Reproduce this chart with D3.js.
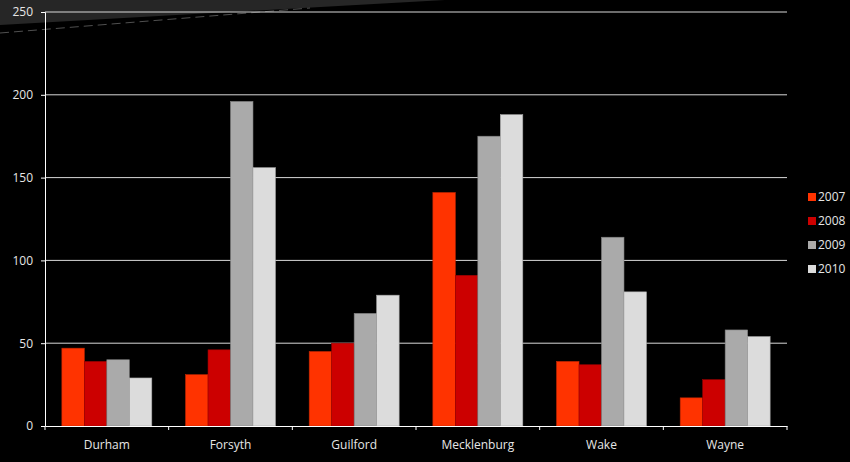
<!DOCTYPE html>
<html lang="en">
<head>
    <meta charset="UTF-8">
    <title>Counties by year</title>
    <script src="https://cdn.jsdelivr.net/npm/d3@7"></script>
    <style>
        body { margin: 0; background: #000; }
        svg text { font-family: "Open Sans", sans-serif; fill: #e6e6e6; }
    </style>
</head>
<body>
    <svg width="850" height="462"></svg>
    <script>
        // data
        const counties = ["Durham", "Forsyth", "Guilford", "Mecklenburg", "Wake", "Wayne"];
        const years = ["2007", "2008", "2009", "2010"];
        const v2007 = [47, 31, 45, 141, 39, 17];
        const v2008 = [39, 46, 50, 91, 37, 28];
        const v2009 = [40, 196, 68, 175, 114, 58];
        const v2010 = [29, 156, 79, 188, 81, 54];
        const yTicks = [0, 50, 100, 150, 200, 250];
        const colors = ["#ff3300", "#cc0000", "#aaaaaa", "#dcdcdc"];

        const series = [v2007, v2008, v2009, v2010];

        const svg = d3.select("svg");
        const plotLeft = 45, plotRight = 787, plotTop = 12, plotBottom = 426;

        // background sweep at the top
        svg.append("rect").attr("width", 850).attr("height", 462).attr("fill", "#000");
        svg.append("path")
            .attr("d", "M0,0 L445,0 L0,25 Z")
            .attr("fill", "#262626");
        svg.append("line")
            .attr("x1", 0).attr("y1", 33).attr("x2", 310).attr("y2", 8)
            .attr("stroke", "#505050").attr("stroke-width", 1)
            .attr("stroke-dasharray", "9,5");

        const y = d3.scaleLinear().domain([0, 250]).range([plotBottom, plotTop]);
        const x0 = d3.scaleBand().domain(counties).range([plotLeft, plotRight]).padding(0);
        const x1 = d3.scaleBand().domain(years).range([0, x0.bandwidth()])
            .paddingInner(0).paddingOuter(0.75);

        // gridlines
        svg.append("g").selectAll("line")
            .data(yTicks.filter(d => d > 0))
            .join("line")
            .attr("x1", plotLeft).attr("x2", plotRight)
            .attr("y1", d => y(d)).attr("y2", d => y(d))
            .attr("stroke", "#d8d8d8").attr("stroke-width", 1);

        // bars
        const groups = svg.append("g").selectAll("g")
            .data(counties)
            .join("g")
            .attr("transform", d => `translate(${x0(d)},0)`);

        groups.selectAll("rect")
            .data((c, i) => years.map((yr, j) => ({ yr, j, v: series[j][i] })))
            .join("rect")
            .attr("x", d => x1(d.yr))
            .attr("width", x1.bandwidth())
            .attr("y", d => y(d.v))
            .attr("height", d => y(0) - y(d.v))
            .attr("fill", d => colors[d.j])
            .attr("stroke", d => d3.color(colors[d.j]).darker(0.8))
            .attr("stroke-width", 0.6);

        // y axis
        const yAxis = svg.append("g")
            .attr("transform", `translate(${plotLeft},0)`)
            .call(d3.axisLeft(y).tickValues(yTicks).tickSize(4).tickPadding(8));
        yAxis.select(".domain").attr("stroke", "#ffffff");
        yAxis.selectAll(".tick line").attr("stroke", "#ffffff");
        yAxis.selectAll("text").attr("font-size", 12).attr("fill", "#e6e6e6");

        // x axis
        const xAxis = svg.append("g")
            .attr("transform", `translate(0,${plotBottom})`)
            .call(d3.axisBottom(x0).tickSize(0).tickPadding(14));
        xAxis.select(".domain").attr("stroke", "#ffffff");
        xAxis.selectAll("text").attr("font-size", 12).attr("fill", "#e6e6e6");
        xAxis.append("g").selectAll("line")
            .data(counties.map(c => x0(c)).concat([plotRight]))
            .join("line")
            .attr("x1", d => d).attr("x2", d => d)
            .attr("y1", 0).attr("y2", 4)
            .attr("stroke", "#ffffff");

        // legend
        const legend = svg.append("g").attr("transform", "translate(808,193)");
        const items = legend.selectAll("g")
            .data(years)
            .join("g")
            .attr("transform", (d, i) => `translate(0,${i * 24})`);
        items.append("rect")
            .attr("width", 8).attr("height", 8)
            .attr("fill", (d, i) => colors[i]);
        items.append("text")
            .attr("x", 10).attr("y", 4)
            .attr("dy", "0.35em")
            .attr("font-size", 12)
            .text(d => d);
    </script>
</body>
</html>
